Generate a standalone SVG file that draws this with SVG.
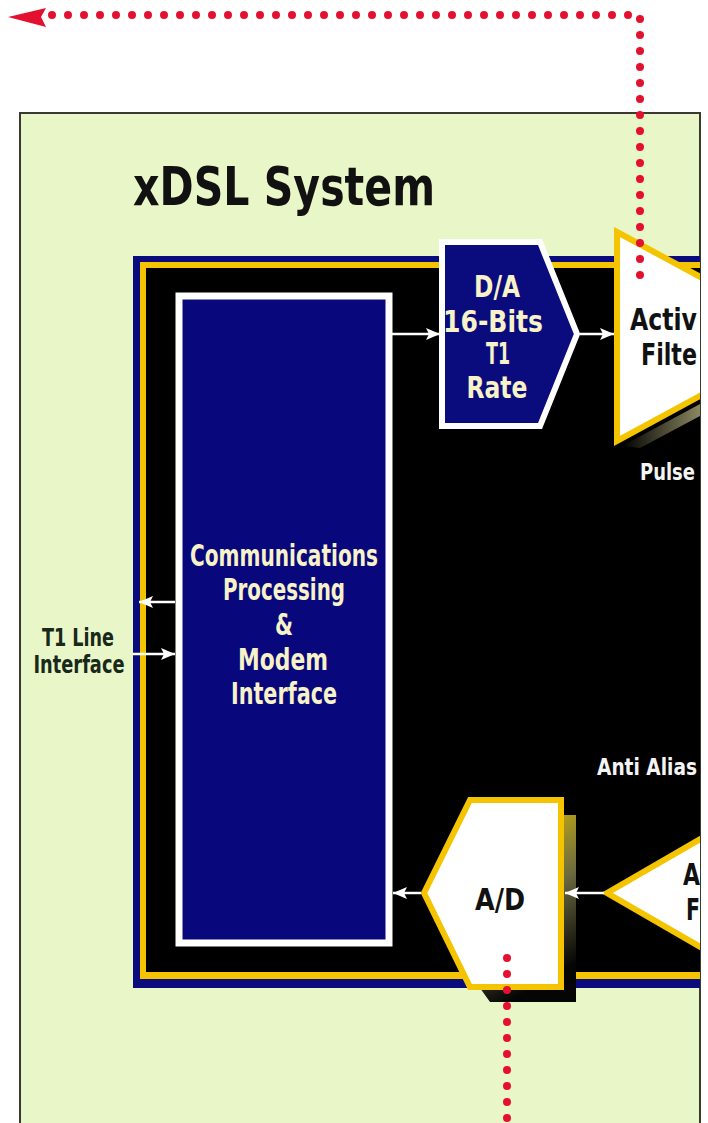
<svg xmlns="http://www.w3.org/2000/svg" width="708" height="1123" viewBox="0 0 708 1123">
<defs>
<style>
.lt{font-family:"DejaVu Sans Condensed","Liberation Sans",sans-serif;font-weight:bold;fill:#f8f2c8;text-anchor:middle;font-size:31px}
.dk{font-family:"DejaVu Sans Condensed","Liberation Sans",sans-serif;font-weight:bold;fill:#111;font-size:31px}
.wt{font-family:"DejaVu Sans Condensed","Liberation Sans",sans-serif;font-weight:bold;fill:#f4f4f4;font-size:23px}
.tl{font-family:"DejaVu Sans Condensed","Liberation Sans",sans-serif;font-weight:bold;fill:#18281a;font-size:24px;text-anchor:middle}
.wire{stroke:#fff;stroke-width:2.5;fill:none}
.dots{stroke:#e3112f;stroke-width:8;stroke-linecap:round;stroke-dasharray:0 16;fill:none}
</style>
<clipPath id="cut"><rect x="0" y="0" width="700" height="1123"/></clipPath>
<marker id="ah" viewBox="0 0 14 12" refX="14" refY="6" markerWidth="14" markerHeight="12" markerUnits="userSpaceOnUse" orient="auto">
<path d="M0,0 L14,6 L0,12 L3,6 Z" fill="#fff"/>
</marker>
<linearGradient id="adsh" x1="0" y1="0" x2="0.3" y2="1">
<stop offset="0" stop-color="#e6c200"/>
<stop offset="0.55" stop-color="#6b6a40"/>
<stop offset="1" stop-color="#050505"/>
</linearGradient>
<linearGradient id="afsh" x1="0" y1="0" x2="1" y2="0">
<stop offset="0" stop-color="#000"/>
<stop offset="1" stop-color="#8a8760"/>
</linearGradient>
</defs>
<rect width="708" height="1123" fill="#ffffff"/>
<g id="panel">
<rect x="20" y="113" width="680" height="1015" fill="#e9f7c8" stroke="#3a3a30" stroke-width="2"/>
<text x="133" y="205" font-family="DejaVu Sans Condensed,Liberation Sans,sans-serif" font-weight="bold" font-size="54" fill="#111" textLength="302" lengthAdjust="spacingAndGlyphs">xDSL System</text>
</g>
<g clip-path="url(#cut)">
<g id="board">
<rect x="133" y="256" width="575" height="732" fill="#0a0c7e"/>
<rect x="140" y="262" width="568" height="717" fill="#f5c400"/>
<rect x="146" y="268" width="562" height="704" fill="#000"/>
</g>
<g id="activefilter">
<polygon points="622,446 700,404 700,416 640,448" fill="url(#afsh)"/>
<polygon points="617,232 810,336 617,441" fill="#fff" stroke="#f5c400" stroke-width="6" stroke-linejoin="miter"/>
<text class="dk" x="630" y="330" textLength="67" lengthAdjust="spacingAndGlyphs">Activ</text>
<text class="dk" x="641" y="365" textLength="56" lengthAdjust="spacingAndGlyphs">Filte</text>
</g>
<g id="antialias">
<polygon points="607,893 780,793 780,993" fill="#fff" stroke="#f5c400" stroke-width="6" stroke-linejoin="miter"/>
<text class="dk" x="683" y="885" textLength="17" lengthAdjust="spacingAndGlyphs">A</text>
<text class="dk" x="686" y="920" textLength="14" lengthAdjust="spacingAndGlyphs">F</text>
</g>
</g>
<g id="comm">
<rect x="179" y="296" width="210" height="647" fill="#08087c" stroke="#fff" stroke-width="7"/>
<text class="lt" x="284" y="566" textLength="188" lengthAdjust="spacingAndGlyphs">Communications</text>
<text class="lt" x="284" y="600" textLength="122" lengthAdjust="spacingAndGlyphs">Processing</text>
<text class="lt" x="284" y="635" textLength="18" lengthAdjust="spacingAndGlyphs">&amp;</text>
<text class="lt" x="283" y="670" textLength="90" lengthAdjust="spacingAndGlyphs">Modem</text>
<text class="lt" x="284" y="704" textLength="106" lengthAdjust="spacingAndGlyphs">Interface</text>
</g>
<g id="da">
<polygon points="442,242 540,242 577,334 540,426 442,426" fill="#0a0c7e" stroke="#fff" stroke-width="6" stroke-linejoin="miter"/>
<text class="lt" x="497" y="297" textLength="46" lengthAdjust="spacingAndGlyphs">D/A</text>
<text class="lt" x="493" y="332" textLength="100" lengthAdjust="spacingAndGlyphs">16-Bits</text>
<text class="lt" x="498" y="364" textLength="24" lengthAdjust="spacingAndGlyphs">T1</text>
<text class="lt" x="497" y="398" textLength="61" lengthAdjust="spacingAndGlyphs">Rate</text>
</g>
<text class="wt" x="640" y="480" textLength="55" lengthAdjust="spacingAndGlyphs">Pulse</text>
<text class="wt" x="597" y="775" textLength="100" lengthAdjust="spacingAndGlyphs">Anti Alias</text>
<g id="ad">
<polygon points="562,815 576,815 576,1002 490,1002 480,988 562,988" fill="url(#adsh)"/>
<polygon points="470,800 561,800 561,987 470,987 424,893" fill="#fff" stroke="#f5c400" stroke-width="6" stroke-linejoin="miter"/>
<text class="dk" x="500" y="910" text-anchor="middle" textLength="50" lengthAdjust="spacingAndGlyphs">A/D</text>
</g>
<g id="t1label">
<text class="tl" x="78" y="646" textLength="72" lengthAdjust="spacingAndGlyphs">T1 Line</text>
<text class="tl" x="79" y="673" textLength="91" lengthAdjust="spacingAndGlyphs">Interface</text>
</g>
<g id="connectors">
<path class="wire" d="M392,334 H440" marker-end="url(#ah)"/>
<path class="wire" d="M580,334 H614" marker-end="url(#ah)"/>
<path class="wire" d="M604,893 H565" marker-end="url(#ah)"/>
<path class="wire" d="M421,893 H393" marker-end="url(#ah)"/>
<path class="wire" d="M175,602 H139" marker-end="url(#ah)"/>
<path class="wire" d="M133,654 H175" marker-end="url(#ah)"/>
<path class="dots" d="M640,275 V15 H44"/>
<polygon points="8,17 46,8 41,17 46,27" fill="#e3112f"/>
<path class="dots" d="M507,958 V1123"/>
</g>
</svg>
